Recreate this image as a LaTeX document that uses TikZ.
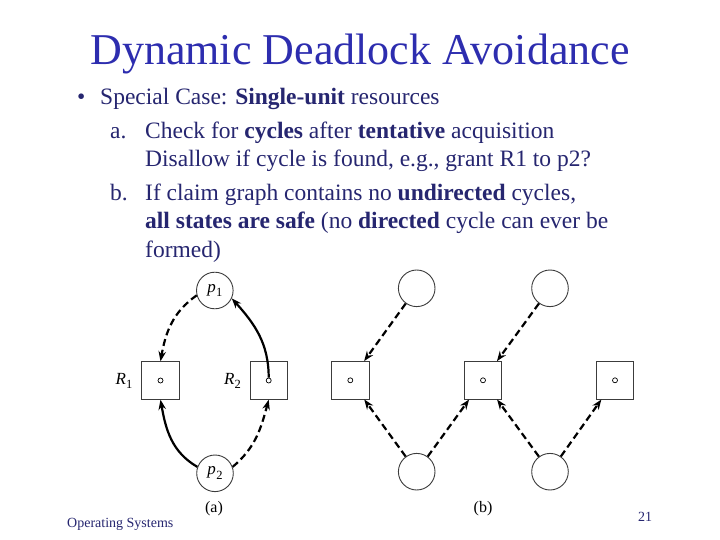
\documentclass[tikz,border=0pt]{standalone}
\usepackage{fontspec}
\setmainfont{Liberation Serif}
\usetikzlibrary{arrows.meta}
\definecolor{titleblue}{RGB}{45,45,175}
\definecolor{navy}{RGB}{38,38,112}
\definecolor{linegray}{RGB}{60,60,60}
\newcommand\pname[2]{{\itshape #1}\kern0.3pt\raisebox{-0.28em}{\fontsize{12.5}{12.5}\selectfont #2}}
\begin{document}
\begin{tikzpicture}[x=1pt,y=1pt,
  proc/.style={circle,draw=linegray,line width=0.9pt,minimum size=36.6pt,inner sep=0pt,font=\fontsize{17}{20}\selectfont},
  res/.style={rectangle,draw=linegray,line width=0.9pt,minimum size=37.5pt,inner sep=0pt},
  dotc/.style={circle,draw=black,line width=0.7pt,minimum size=5pt,inner sep=0pt},
  edgeline/.style={line width=2.2pt,-{Stealth[length=10pt,width=7.5pt]}},
  claim/.style={edgeline,dash pattern=on 7pt off 4pt},
  txt/.style={anchor=base west,inner sep=0pt,text=navy,font=\fontsize{23.5}{28}\selectfont},
  foot/.style={inner sep=0pt,text=navy,font=\fontsize{14}{16}\selectfont},
  capstyle/.style={inner sep=0pt,font=\fontsize{16}{18}\selectfont},
  rlabel/.style={inner sep=0pt,font=\fontsize{17}{20}\selectfont},
]
\useasboundingbox (0,0) rectangle (720,-540);
\fill[white] (0,0) rectangle (720,-540);

% title
\node[anchor=base,inner sep=0pt,text=titleblue,font=\fontsize{44}{50}\selectfont] (title) at (360,-65) {Dynamic Deadlock Avoidance};

% body text
\node[txt] (bullet) at (77,-105) {\textbullet};
\node[txt] (l1) at (100,-105) {Special Case: \textbf{Single-unit} resources};
\node[txt] (la) at (110,-139) {a.};
\node[txt] (l2) at (145,-139) {Check for \textbf{cycles} after \textbf{tentative} acquisition};
\node[txt] (l3) at (145,-167) {Disallow if cycle is found, e.g., grant R1 to p2?};
\node[txt] (lb) at (110,-201) {b.};
\node[txt] (l4) at (145,-201) {If claim graph contains no \textbf{undirected} cycles,};
\node[txt] (l5) at (145,-229) {\textbf{all states are safe} (no \textbf{directed} cycle can ever be};
\node[txt] (l6) at (145,-257) {formed)};

% (a)
\node[proc] (p1) at (214.8,-290.5) {\pname{p}{1}};
\node[proc] (p2) at (215,-473.3) {\pname{p}{2}};
\node[res] (R1) at (160.5,-380.5) {};
\node[res] (R2) at (268.7,-380.5) {};
\node[dotc] (d1) at (R1.center) {};
\node[dotc] (d2) at (R2.center) {};
\node[rlabel] (R1l) at (124,-381) {\pname{R}{1}};
\node[rlabel] (R2l) at (232.5,-381) {\pname{R}{2}};

\draw[claim] (p1.195) to[out=215,in=80] (R1.north);
\draw[edgeline] (d2.north) to[out=90,in=-48] (p1.-25);
\draw[edgeline] (p2.160) to[out=150,in=-80] (R1.south);
\draw[claim] (p2.20) to[out=40,in=-105] (R2.south);

\node[capstyle] (capa) at (214,-509) {(a)};

% (b)
\node[proc] (t1) at (416.7,-288.3) {};
\node[proc] (t2) at (550,-288.3) {};
\node[res] (B1) at (350.3,-380.3) {};
\node[res] (B2) at (483,-380.3) {};
\node[res] (B3) at (615,-380.3) {};
\node[dotc] (e1) at (B1.center) {};
\node[dotc] (e2) at (B2.center) {};
\node[dotc] (e3) at (B3.center) {};
\node[proc] (u1) at (416.7,-471.7) {};
\node[proc] (u2) at (550,-471.7) {};

\draw[claim] (t1) -- (B1);
\draw[claim] (t2) -- (B2);
\draw[claim] (u1) -- (B1);
\draw[claim] (u1) -- (B2);
\draw[claim] (u2) -- (B2);
\draw[claim] (u2) -- (B3);

\node[capstyle] (capb) at (483,-509) {(b)};

% footer
\node[foot,anchor=base west] (os) at (67,-527) {Operating Systems};
\node[foot,anchor=base] (num) at (645,-521) {21};
\end{tikzpicture}
\end{document}
